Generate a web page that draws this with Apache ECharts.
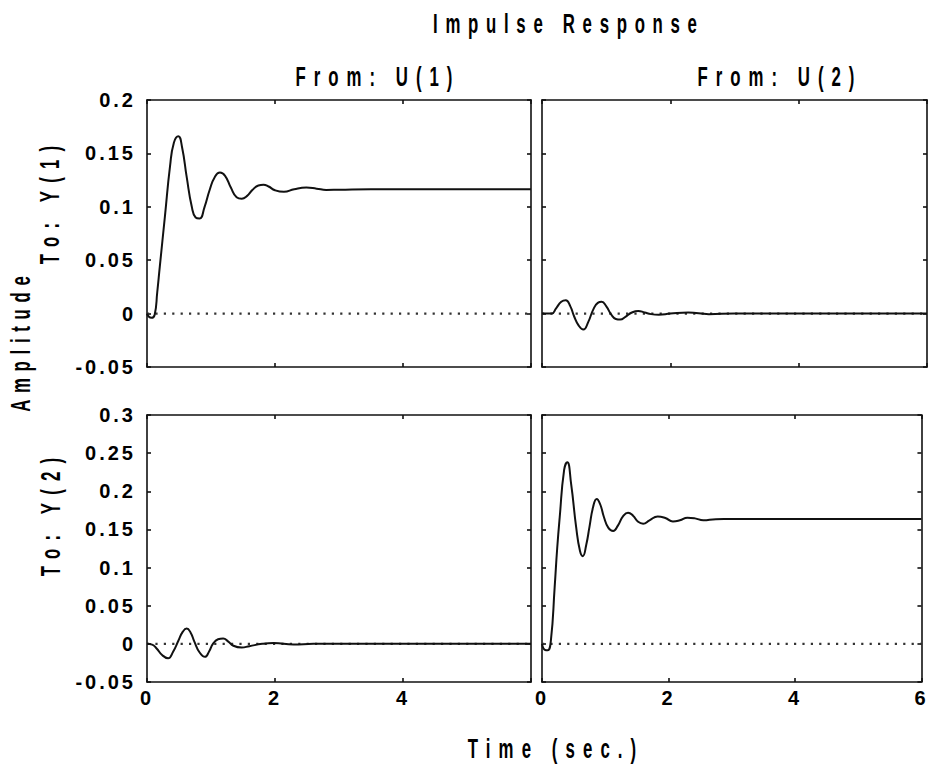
<!DOCTYPE html>
<html>
<head>
<meta charset="utf-8">
<script src="https://cdn.jsdelivr.net/npm/echarts@6/dist/echarts.min.js"></script>
<style>
html,body{margin:0;padding:0;background:#fff;}
#chart{width:930px;height:765px;}
#chart text{letter-spacing:3px;}
</style>
</head>
<body>
<div id="chart"></div>
<script>
// ---- data ----
const chartTitle = 'Impulse Response';
const inputLabels = ['From: U(1)', 'From: U(2)'];
const outputLabels = ['To: Y(1)', 'To: Y(2)'];
const yAxisTitle = 'Amplitude';
const xAxisTitle = 'Time (sec.)';
const xTicks = [0, 2, 4, 6];
const yTicksTop = [-0.05, 0, 0.05, 0.1, 0.15, 0.2];
const yTicksBottom = [-0.05, 0, 0.05, 0.1, 0.15, 0.2, 0.25, 0.3];
const zeroLine = [[0, 0], [6, 0]];

// Y(1) <- U(1)
const y1u1 = [[0,0],[0.03,-0.003],[0.07,-0.004],[0.12,-0.001],[0.16,0.02],[0.20,0.044],[0.28,0.091],[0.36,0.138],[0.42,0.160],[0.49,0.166],[0.55,0.155],[0.62,0.128],[0.70,0.100],[0.76,0.090],[0.82,0.089],[0.90,0.100],[0.98,0.116],[1.06,0.128],[1.14,0.132],[1.22,0.129],[1.31,0.118],[1.40,0.109],[1.48,0.1076],[1.56,0.110],[1.65,0.116],[1.74,0.120],[1.82,0.1207],[1.90,0.119],[2.0,0.1155],[2.14,0.114],[2.3,0.1165],[2.49,0.118],[2.65,0.117],[2.8,0.1158],[3.0,0.116],[3.5,0.1165],[4,0.1165],[5,0.1165],[6,0.1165]];
// Y(1) <- U(2)
const y1u2 = [[0,0],[0.15,0],[0.22,0.005],[0.30,0.011],[0.37,0.0125],[0.44,0.007],[0.50,-0.0025],[0.57,-0.011],[0.645,-0.015],[0.72,-0.008],[0.80,0.004],[0.87,0.010],[0.93,0.011],[1.00,0.007],[1.08,-0.001],[1.15,-0.005],[1.22,-0.0056],[1.30,-0.003],[1.40,0.001],[1.5,0.0025],[1.6,0.001],[1.7,-0.0005],[1.82,-0.001],[2.0,0],[2.28,0.001],[2.6,-0.0005],[3,0],[6,0]];
// Y(2) <- U(1)
const y2u1 = [[0,0],[0.08,-0.001],[0.15,-0.006],[0.24,-0.015],[0.33,-0.019],[0.41,-0.010],[0.49,0.004],[0.56,0.016],[0.62,0.020],[0.68,0.015],[0.74,0.003],[0.82,-0.011],[0.906,-0.017],[0.97,-0.010],[1.03,0],[1.11,0.006],[1.19,0.007],[1.27,0.003],[1.35,-0.0025],[1.48,-0.0048],[1.6,-0.003],[1.8,0],[1.98,0.001],[2.29,-0.0008],[2.6,0],[6,0]];
// Y(2) <- U(2)
const y2u2 = [[0,0],[0.05,-0.008],[0.09,-0.0083],[0.14,0.004],[0.20,0.074],[0.24,0.125],[0.28,0.166],[0.35,0.228],[0.40,0.238],[0.46,0.210],[0.54,0.153],[0.60,0.122],[0.645,0.115],[0.70,0.130],[0.75,0.153],[0.81,0.180],[0.865,0.190],[0.92,0.183],[0.98,0.166],[1.05,0.152],[1.125,0.148],[1.2,0.155],[1.28,0.167],[1.36,0.172],[1.44,0.168],[1.52,0.160],[1.6,0.1575],[1.7,0.162],[1.83,0.167],[1.95,0.165],[2.07,0.1605],[2.18,0.162],[2.3,0.1654],[2.42,0.1645],[2.55,0.162],[2.75,0.1635],[3,0.1636],[6,0.1636]];

const panels = [y1u1, y1u2, y2u1, y2u2];

// ---- chart ----
const FONT = "'Liberation Sans', Arial, sans-serif";
const grids = [
  {left:147, top:100, width:384, height:267},
  {left:542, top:100, width:385, height:267},
  {left:147, top:415, width:384, height:267},
  {left:542, top:415, width:385, height:267}
];
const lineCol = '#111';
function fmtY(v){
  if (Math.abs(v) < 1e-9) return '0';
  return String(Math.round(v*100)/100);
}
const xAxes = [], yAxes = [], series = [];
grids.forEach((g, i) => {
  const bottomRow = i >= 2;
  const leftCol = i % 2 === 0;
  const yt = i < 2 ? yTicksTop : yTicksBottom;
  const common = {
    gridIndex: i, type: 'value', min: 0, max: 6, interval: 2,
    axisLine: {show: true, onZero: false, lineStyle: {color: lineCol, width: 1.6}},
    axisTick: {show: true, inside: true, length: 4, lineStyle: {color: lineCol, width: 1.6}},
    splitLine: {show: false}
  };
  xAxes.push(Object.assign({}, common, {
    position: 'bottom',
    axisLabel: {
      show: bottomRow, color: '#000', fontFamily: FONT, fontWeight: 'bold', fontSize: 20, margin: 6,
      formatter: v => (leftCol && v === 6) ? '' : (xTicks.indexOf(v) >= 0 ? String(v) : '')
    }
  }));
  xAxes.push(Object.assign({}, common, {position: 'top', axisLabel: {show: false}}));
  const ycommon = {
    gridIndex: i, type: 'value', min: yt[0], max: yt[yt.length-1], interval: 0.05,
    axisLine: {show: true, onZero: false, lineStyle: {color: lineCol, width: 1.6}},
    axisTick: {show: true, inside: true, length: 4, lineStyle: {color: lineCol, width: 1.6}},
    splitLine: {show: false}
  };
  yAxes.push(Object.assign({}, ycommon, {
    position: 'left',
    axisLabel: {show: leftCol, color: '#000', fontFamily: FONT, fontWeight: 'bold', fontSize: 20, margin: 11, formatter: fmtY}
  }));
  yAxes.push(Object.assign({}, ycommon, {position: 'right', axisLabel: {show: false}}));
  series.push({
    type: 'line', xAxisIndex: i*2, yAxisIndex: i*2, data: zeroLine, symbol: 'none', silent: true,
    lineStyle: {color: '#333', width: 2.2, type: [2.2, 6.2]}, z: 1
  });
  series.push({
    type: 'line', xAxisIndex: i*2, yAxisIndex: i*2, data: panels[i], symbol: 'none', smooth: 0.5,
    lineStyle: {color: lineCol, width: 2}, z: 2
  });
});

// condensed, widely spaced label text (screen letter spacing in px)
const SX = 0.6;
const labelSpacing = {};
labelSpacing[chartTitle] = 7.7;
labelSpacing[inputLabels[0]] = 8.0;
labelSpacing[inputLabels[1]] = 8.0;
labelSpacing[xAxisTitle] = 8.1;
labelSpacing[yAxisTitle] = 6.7;
labelSpacing[outputLabels[0]] = 8.2;
labelSpacing[outputLabels[1]] = 8.2;

function label(t, x, y, vertical) {
  const half = labelSpacing[t] / 2;
  return {
    type: 'text',
    x: vertical ? x : x + half,
    y: vertical ? y - half : y,
    rotation: vertical ? Math.PI/2 : 0,
    scaleX: SX, scaleY: 1,
    style: {
      text: t, fill: '#000', fontFamily: FONT, fontWeight: 'bold', fontSize: 28,
      textAlign: 'center', textVerticalAlign: 'middle'
    }
  };
}

const chart = echarts.init(document.getElementById('chart'), null, {renderer: 'svg'});
chart.setOption({
  animation: false,
  backgroundColor: '#fff',
  grid: grids,
  xAxis: xAxes,
  yAxis: yAxes,
  series: series,
  graphic: [
    label(chartTitle, 565, 23, false),
    label(inputLabels[0], 374, 76, false),
    label(inputLabels[1], 776, 76, false),
    label(outputLabels[0], 49, 205, true),
    label(outputLabels[1], 50, 517, true),
    label(yAxisTitle, 20, 344, true),
    label(xAxisTitle, 552, 748, false)
  ]
});

function applySpacing() {
  document.querySelectorAll('#chart svg text').forEach(el => {
    const s = labelSpacing[el.textContent];
    if (s !== undefined) el.style.letterSpacing = (s / SX).toFixed(2) + 'px';
  });
}
applySpacing();
chart.on('finished', applySpacing);
setTimeout(applySpacing, 50);
</script>
</body>
</html>
